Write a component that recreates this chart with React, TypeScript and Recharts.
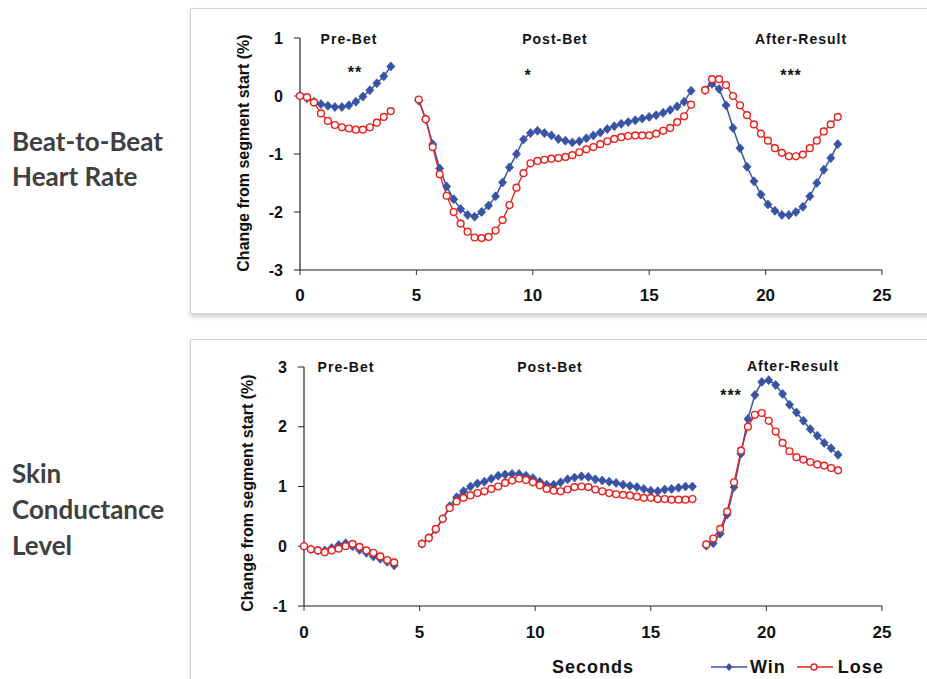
import React from "react";
import { LineChart, Line, XAxis, YAxis } from "recharts";

const WIN = "#3953a4";
const LOSE = "#e8211d";
const STEP = 0.3;

// seconds where Pre-Bet, Post-Bet and After-Result segments start
const segmentStarts = [0, 5.1, 17.4];
const xTicks = [0, 5, 10, 15, 20, 25];
const hrTicks = [-3, -2, -1, 0, 1];
const sclTicks = [-1, 0, 1, 2, 3];

// Beat-to-beat heart rate, % change from segment start
const hrPreWin = [0, -0.04, -0.1, -0.14, -0.17, -0.19, -0.19, -0.16, -0.1, -0.01, 0.1, 0.22, 0.34, 0.51];
const hrPreLose = [0, -0.02, -0.11, -0.3, -0.43, -0.5, -0.54, -0.56, -0.58, -0.58, -0.54, -0.46, -0.36, -0.26];
const hrPostWin = [
  -0.08, -0.4, -0.83, -1.25, -1.56, -1.78, -1.95, -2.05, -2.08, -2.0,
  -1.89, -1.73, -1.49, -1.23, -1.0, -0.75, -0.64, -0.6, -0.64, -0.68,
  -0.74, -0.77, -0.8, -0.78, -0.73, -0.68, -0.63, -0.57, -0.52, -0.48,
  -0.45, -0.42, -0.39, -0.36, -0.33, -0.29, -0.24, -0.18, -0.1, 0.09,
];
const hrPostLose = [
  -0.06, -0.4, -0.88, -1.35, -1.72, -2.0, -2.2, -2.34, -2.44, -2.45,
  -2.43, -2.32, -2.14, -1.88, -1.58, -1.33, -1.16, -1.12, -1.1, -1.08,
  -1.07, -1.05, -1.02, -0.97, -0.92, -0.88, -0.83, -0.78, -0.74, -0.71,
  -0.69, -0.68, -0.68, -0.68, -0.65, -0.6, -0.55, -0.45, -0.35, -0.15,
];
const hrAfterWin = [0.1, 0.21, 0.12, -0.16, -0.55, -0.9, -1.22, -1.47, -1.7, -1.87, -1.98, -2.05, -2.05, -2.0, -1.91, -1.73, -1.5, -1.27, -1.07, -0.83];
const hrAfterLose = [0.1, 0.29, 0.29, 0.19, 0, -0.16, -0.33, -0.49, -0.65, -0.77, -0.9, -0.98, -1.04, -1.04, -1.01, -0.9, -0.77, -0.61, -0.49, -0.36];

// Skin conductance level, % change from segment start
const sclPreWin = [0, -0.05, -0.07, -0.07, -0.03, 0.02, 0.05, 0, -0.06, -0.11, -0.17, -0.21, -0.26, -0.32];
const sclPreLose = [0, -0.05, -0.07, -0.1, -0.07, -0.04, 0, 0.04, -0.01, -0.07, -0.11, -0.17, -0.23, -0.27];
const sclPostWin = [
  0.04, 0.14, 0.28, 0.46, 0.67, 0.82, 0.92, 1.0, 1.05, 1.08,
  1.13, 1.18, 1.2, 1.21, 1.21, 1.18, 1.14, 1.08, 1.03, 1.03,
  1.07, 1.12, 1.15, 1.17, 1.16, 1.12, 1.1, 1.08, 1.06, 1.03,
  1.01, 0.99, 0.96, 0.93, 0.92, 0.95, 0.96, 0.98, 1.0, 1.0,
];
const sclPostLose = [
  0.04, 0.14, 0.29, 0.46, 0.64, 0.75, 0.81, 0.85, 0.89, 0.92,
  0.96, 1.0, 1.06, 1.1, 1.13, 1.11, 1.07, 1.02, 0.96, 0.93,
  0.92, 0.95, 0.99, 1.0, 0.99, 0.95, 0.92, 0.89, 0.87, 0.86,
  0.85, 0.83, 0.81, 0.81, 0.79, 0.79, 0.78, 0.78, 0.78, 0.79,
];
const sclAfterWin = [0.01, 0.05, 0.21, 0.53, 0.99, 1.55, 2.13, 2.53, 2.75, 2.78, 2.7, 2.55, 2.37, 2.24, 2.1, 1.96, 1.85, 1.73, 1.64, 1.53];
const sclAfterLose = [0.03, 0.13, 0.29, 0.58, 1.07, 1.6, 2.0, 2.2, 2.23, 2.1, 1.92, 1.73, 1.59, 1.49, 1.45, 1.41, 1.37, 1.35, 1.31, 1.27];

type Row = { t: number; win: number | null; lose: number | null };

// one row per sample, with an empty row between segments so the lines break
function buildRows(segments: [number[], number[]][]): Row[] {
  const rows: Row[] = [];
  segments.forEach(([win, lose], s) => {
    const start = segmentStarts[s];
    if (s > 0) rows.push({ t: start - STEP / 2, win: null, lose: null });
    win.forEach((w, i) => {
      rows.push({ t: +(start + i * STEP).toFixed(2), win: w, lose: lose[i] });
    });
  });
  return rows;
}

const hrRows = buildRows([
  [hrPreWin, hrPreLose],
  [hrPostWin, hrPostLose],
  [hrAfterWin, hrAfterLose],
]);
const sclRows = buildRows([
  [sclPreWin, sclPreLose],
  [sclPostWin, sclPostLose],
  [sclAfterWin, sclAfterLose],
]);

const ARIAL = "'Liberation Sans', Arial, sans-serif";

const WinDot = (props: any) => {
  const { cx, cy, index, value } = props;
  if (value == null || cx == null || cy == null) return <g key={`w${index}`} />;
  return (
    <path
      key={`w${index}`}
      d={`M${cx},${cy - 4.5}L${cx + 4},${cy}L${cx},${cy + 4.5}L${cx - 4},${cy}Z`}
      fill={WIN}
      stroke={WIN}
      strokeWidth={0.8}
    />
  );
};

const LoseDot = (props: any) => {
  const { cx, cy, index, value } = props;
  if (value == null || cx == null || cy == null) return <g key={`l${index}`} />;
  return <circle key={`l${index}`} cx={cx} cy={cy} r={3.4} fill="#fff" stroke={LOSE} strokeWidth={1.4} />;
};

type PanelProps = {
  rows: Row[];
  top: number;
  height: number;
  margin: { top: number; right: number; left: number; bottom: number };
  domain: [number, number];
  ticks: number[];
  tickMargin: number;
};

function Panel({ rows, top, height, margin, domain, ticks, tickMargin }: PanelProps) {
  return (
    <div style={{ position: "absolute", left: 190, top, width: 737, height }}>
      <LineChart width={737} height={height} data={rows} margin={margin}>
        <XAxis
          dataKey="t"
          type="number"
          domain={[0, 25]}
          ticks={xTicks}
          height={30}
          tickSize={5}
          tickMargin={tickMargin}
          axisLine={{ stroke: "#8c8c8c", strokeWidth: 2 }}
          tickLine={{ stroke: "#333" }}
          tick={{ fontSize: 17, fontWeight: 700, fill: "#111", fontFamily: ARIAL }}
        />
        <YAxis
          type="number"
          domain={domain}
          ticks={ticks}
          width={60}
          tickSize={6}
          tickMargin={11}
          axisLine={{ stroke: "#222", strokeWidth: 1.2 }}
          tickLine={{ stroke: "#222" }}
          tick={{ fontSize: 16, fontWeight: 700, fill: "#111", fontFamily: ARIAL }}
        />
        <Line
          dataKey="win"
          stroke={WIN}
          strokeWidth={1.5}
          dot={WinDot}
          activeDot={false}
          isAnimationActive={false}
        />
        <Line
          dataKey="lose"
          stroke={LOSE}
          strokeWidth={1.3}
          dot={LoseDot}
          activeDot={false}
          isAnimationActive={false}
        />
      </LineChart>
    </div>
  );
}

function Note({ x, y, text, size = 14 }: { x: number; y: number; text: string; size?: number }) {
  return (
    <div
      style={{
        position: "absolute",
        left: x,
        top: y,
        transform: "translate(-50%, -50%)",
        fontFamily: ARIAL,
        fontWeight: 700,
        fontSize: size,
        letterSpacing: 1,
        lineHeight: 1,
        color: "#111",
        whiteSpace: "nowrap",
      }}
    >
      {text}
    </div>
  );
}

function YTitle({ x, y }: { x: number; y: number }) {
  return (
    <div
      style={{
        position: "absolute",
        left: x,
        top: y,
        transform: "translate(-50%, -50%) rotate(-90deg)",
        fontFamily: ARIAL,
        fontWeight: 700,
        fontSize: 16,
        lineHeight: 1,
        color: "#111",
        whiteSpace: "nowrap",
      }}
    >
      Change from segment start (%)
    </div>
  );
}

const sideLabel: React.CSSProperties = {
  position: "absolute",
  left: 12,
  fontFamily: "Lato, 'Open Sans', sans-serif",
  fontWeight: 700,
  fontSize: 26,
  color: "#404040",
};

const box: React.CSSProperties = {
  position: "absolute",
  left: 190,
  width: 760,
  border: "1px solid #d6d6d6",
  boxShadow: "0 3px 4px rgba(0,0,0,0.18)",
  background: "#fff",
};

export default function App() {
  return (
    <div
      style={{
        position: "absolute",
        left: 0,
        top: 0,
        width: 927,
        height: 679,
        overflow: "hidden",
        background: "#fff",
      }}
    >
      <div style={{ ...box, top: 8, height: 304 }} />
      <div style={{ ...box, top: 339, height: 360 }} />

      <div style={{ ...sideLabel, top: 124, lineHeight: "35px" }}>
        Beat-to-Beat
        <br />
        Heart Rate
      </div>
      <div style={{ ...sideLabel, top: 455, lineHeight: "36px" }}>
        Skin
        <br />
        Conductance
        <br />
        Level
      </div>

      <Panel
        rows={hrRows}
        top={8}
        height={304}
        margin={{ top: 30, right: 45, left: 50, bottom: 12 }}
        domain={[-3, 1]}
        ticks={hrTicks}
        tickMargin={14}
      />
      <Panel
        rows={sclRows}
        top={339}
        height={340}
        margin={{ top: 28, right: 45, left: 54, bottom: 43 }}
        domain={[-1, 3]}
        ticks={sclTicks}
        tickMargin={15}
      />

      <YTitle x={244} y={153} />
      <YTitle x={248} y={493} />

      <Note x={349} y={39} text="Pre-Bet" />
      <Note x={555} y={39} text="Post-Bet" />
      <Note x={801} y={39} text="After-Result" />
      <Note x={355} y={73} text="**" size={16} />
      <Note x={528} y={76} text="*" size={16} />
      <Note x={791} y={76} text="***" size={16} />

      <Note x={346} y={367} text="Pre-Bet" />
      <Note x={550} y={367} text="Post-Bet" />
      <Note x={793} y={366} text="After-Result" />
      <Note x={731} y={396} text="***" size={16} />

      <div
        style={{
          position: "absolute",
          left: 552,
          top: 656,
          fontFamily: ARIAL,
          fontWeight: 700,
          fontSize: 18,
          letterSpacing: 1,
          lineHeight: "22px",
          color: "#111",
        }}
      >
        Seconds
      </div>
      <div
        style={{
          position: "absolute",
          left: 711,
          top: 656,
          display: "flex",
          alignItems: "center",
          fontFamily: ARIAL,
          fontWeight: 700,
          fontSize: 18,
          letterSpacing: 1,
          lineHeight: "22px",
          color: "#111",
        }}
      >
        <svg width={39} height={12}>
          <line x1={0} y1={6} x2={36} y2={6} stroke={WIN} strokeWidth={1.3} />
          <path d="M18,2L21.5,6L18,10L14.5,6Z" fill={WIN} />
        </svg>
        <span style={{ marginRight: 11 }}>Win</span>
        <svg width={41} height={12}>
          <line x1={0} y1={6} x2={36} y2={6} stroke={LOSE} strokeWidth={1.3} />
          <circle cx={17} cy={6} r={3} fill="#fff" stroke={LOSE} strokeWidth={1.3} />
        </svg>
        <span>Lose</span>
      </div>
    </div>
  );
}
